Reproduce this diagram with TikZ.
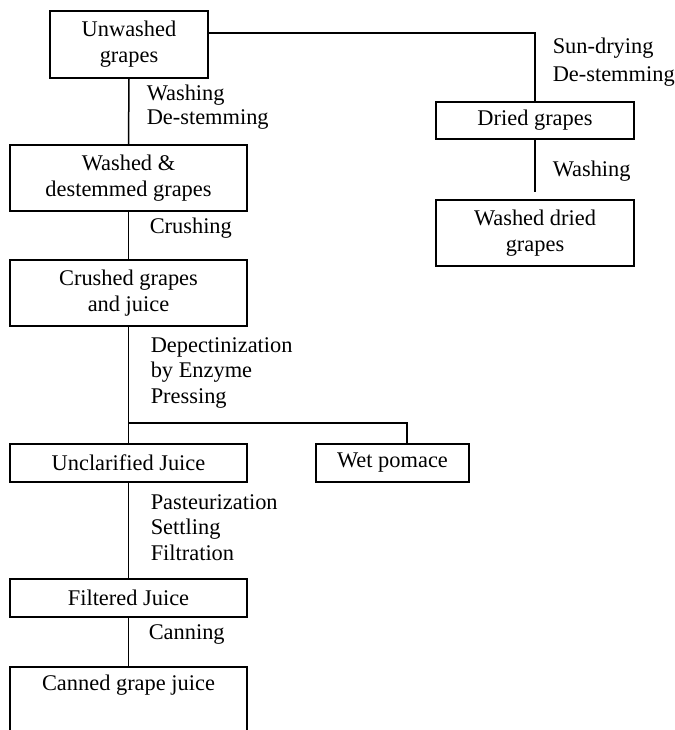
\documentclass[tikz,border=0pt]{standalone}
\usepackage{fontspec}
\setmainfont{Liberation Serif}
\begin{document}
\begin{tikzpicture}[x=1bp, y=-1bp, line width=1.5bp,
  stage/.style={draw, inner sep=0pt, align=center,
    font=\fontsize{22.4bp}{26bp}\selectfont},
  stagetext/.style={inner sep=0pt, align=center,
    font=\fontsize{22.4bp}{26bp}\selectfont},
  op/.style={inner sep=0pt, anchor=west, align=left,
    font=\fontsize{22.4bp}{25.5bp}\selectfont}]
\useasboundingbox (0,0) rectangle (675,730);
\clip (0,0) rectangle (675,730);

% main processing line
\node[stage, minimum width=158bp, minimum height=67bp] (unw) at (129,44.5) {Unwashed\\grapes};
\node[stage, minimum width=237bp, minimum height=66bp] (wd) at (128.5,178) {Washed \&\\destemmed grapes};
\node[stage, minimum width=237bp, minimum height=66bp] (cr) at (128.5,293) {Crushed grapes\\and juice};
\node[stage, minimum width=237bp, minimum height=38bp] (unc) at (128.5,463) {Unclarified Juice};
\node[stage, minimum width=153bp, minimum height=38bp] (wp) at (392.5,463) {Wet pomace};
\node[stage, minimum width=237bp, minimum height=38bp] (fj) at (128.5,598) {Filtered Juice};
\node[stage, minimum width=237bp, minimum height=110bp, anchor=north] (can) at (128.5,666) {};
\node[stagetext] (cantext) at (128.5,685) {Canned grape juice};

% dried grape branch
\node[stage, minimum width=198bp, minimum height=37bp] (dg) at (535,120.5) {Dried grapes};
\node[stage, minimum width=198bp, minimum height=66bp] (wdg) at (535,233) {Washed dried\\grapes};

% connectors
\draw (unw.south) -- (wd.north);
\draw ([yshift=11.5bp]unw.east) -| (dg.north);
\draw[shorten >=7bp] (dg.south) -- (wdg.north);
\draw (wd.south) -- (cr.north);
\draw (cr.south) -- (unc.north);
\coordinate (forkY) at (0,423);
\coordinate (fork) at (cr.south |- forkY);
\draw (fork) -| ([xshift=14.5bp]wp.north);
\draw (unc.south) -- (fj.north);
\draw (fj.south) -- (can.north);

% operation labels
\node[op, font=\fontsize{22.4bp}{24bp}\selectfont] (l1) at (146,107) {Washing\\De-stemming};
\node[op, font=\fontsize{22.4bp}{28bp}\selectfont] (l2) at (552,62.5) {Sun-drying\\De-stemming};
\node[op] (l3) at (552,171) {Washing};
\node[op] (l4) at (149,228) {Crushing};
\node[op] (l5) at (150,372.5) {Depectinization\\by Enzyme\\Pressing};
\node[op] (l6) at (150,527.5) {Pasteurization\\Settling\\Filtration};
\node[op] (l7) at (148,634) {Canning};
\end{tikzpicture}
\end{document}
